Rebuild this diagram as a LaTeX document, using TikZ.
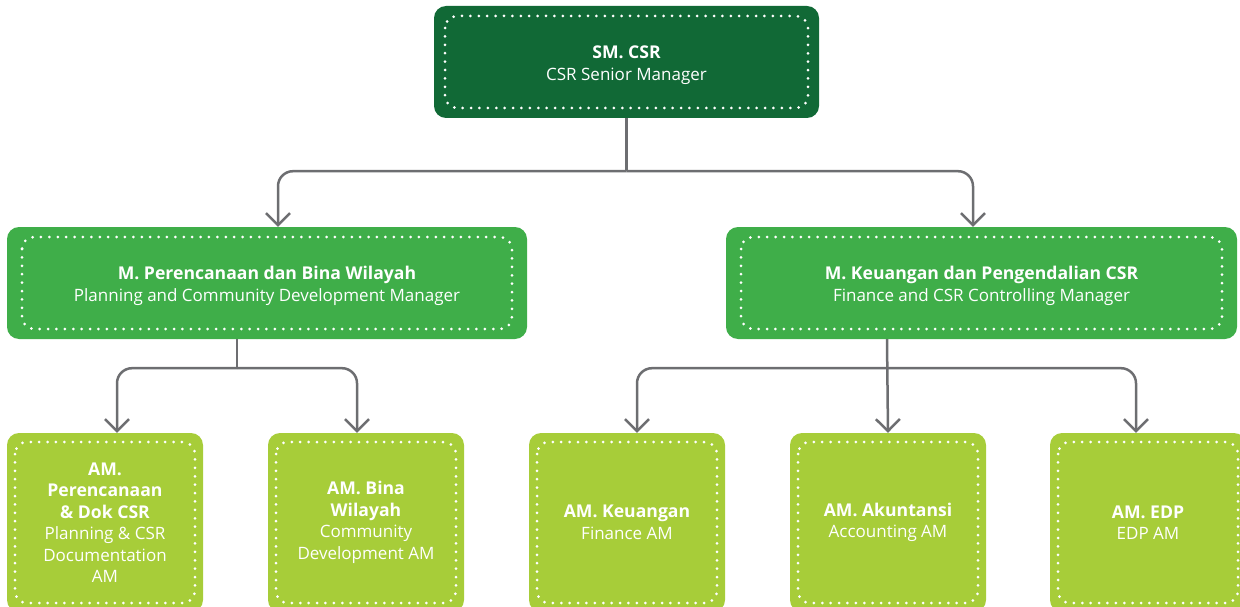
\documentclass[tikz,border=0pt]{standalone}
\usepackage{fontspec}
\setmainfont{Open Sans}
\usetikzlibrary{arrows.meta}
\definecolor{csrdark}{HTML}{116936}
\definecolor{csrmid}{HTML}{3FAE49}
\definecolor{csrlight}{HTML}{A7CD39}
\definecolor{csrline}{HTML}{6D6E71}
\newcommand\rolename[1]{{\fontsize{17.6}{21.5}\selectfont\bfseries #1}}
\tikzset{
  dotline/.style={white, line width=3pt, line cap=round, dash pattern=on 0pt off 8.4pt},
  dotframe/.style 2 args={path picture={\draw[dotline] ([shift={(#1,-#2)}]path picture bounding box.north west) rectangle ([shift={(-#1,#2)}]path picture bounding box.south east);}},
  orgbox/.style={rounded corners=12pt, text=white, align=center, inner sep=0pt,
    font=\fontsize{17}{21.5}\selectfont},
  topbox/.style={orgbox, fill=csrdark, minimum width=385pt, minimum height=112pt, dotframe={11pt}{10pt},
    text height=41pt},
  midbox/.style={orgbox, fill=csrmid, minimum height=112pt, dotframe={15pt}{10pt},
    text height=41pt},
  lowbox/.style={orgbox, fill=csrlight, minimum width=196pt, minimum height=179pt, dotframe={8pt}{9pt}},
  link/.style={csrline, line width=2.5pt},
  linkto/.style={link, rounded corners=15pt, -{Straight Barb[length=12pt,width=24pt]}}
}
\begin{document}
\begin{tikzpicture}[x=1pt, y=1pt]
\useasboundingbox (0,0) rectangle (1240,-607);
% top level
\node[topbox] (sm) at (626.5,-62) {\rolename{SM. CSR}\\CSR Senior Manager};
% managers
\node[midbox, minimum width=520pt] (pcd) at (267,-283) {\rolename{M. Perencanaan dan Bina Wilayah}\\Planning and Community Development Manager};
\node[midbox, minimum width=511pt] (fin) at (981.5,-283) {\rolename{M. Keuangan dan Pengendalian CSR}\\Finance and CSR Controlling Manager};
% assistant managers
\node[lowbox] (plan) at (105,-522.5) {\rolename{AM.}\\\rolename{Perencanaan}\\\rolename{\& Dok CSR}\\Planning \& CSR\\Documentation\\AM};
\node[lowbox] (comdev) at (366,-522.5) {\rolename{AM. Bina}\\\rolename{Wilayah}\\Community\\Development AM};
\node[lowbox] (keu) at (627,-522.5) {\rolename{AM. Keuangan}\\Finance AM};
\node[lowbox] (acc) at (888,-522.5) {\rolename{AM. Akuntansi}\\Accounting AM};
\node[lowbox] (edp) at (1148,-522.5) {\rolename{AM. EDP}\\EDP AM};

% connectors
\draw[link] (sm.south) -- ++(0,-53) coordinate (smj);
\draw[linkto] (smj) -| ([xshift=11pt]pcd.north);
\draw[linkto] (smj) -| ([xshift=-8.5pt]fin.north);

\draw[link] ([xshift=-30pt]pcd.south) -- ++(0,-29) coordinate (pcdj);
\draw[linkto] (pcdj) -| ([xshift=12pt]plan.north);
\draw[linkto] (pcdj) -| ([xshift=-9pt]comdev.north);

\draw[linkto] ([xshift=-94.5pt]fin.south) -- (acc.north);
\coordinate (finj) at ([xshift=-94.5pt,yshift=-29pt]fin.south);
\draw[linkto] (finj) -| ([xshift=10pt]keu.north);
\draw[linkto] (finj) -| ([xshift=-12pt]edp.north);
\end{tikzpicture}
\end{document}
